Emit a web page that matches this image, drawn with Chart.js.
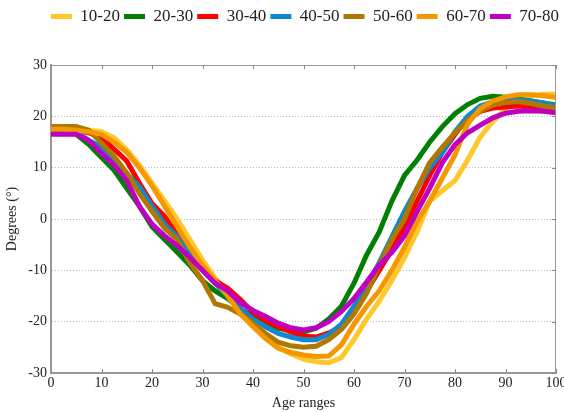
<!DOCTYPE html>
<html>
<head>
<meta charset="utf-8">
<script src="https://cdn.jsdelivr.net/npm/chart.js@4.4.1/dist/chart.umd.min.js"></script>
<style>
  html, body { margin: 0; padding: 0; background: #fff; }
  #wrap { width: 564px; height: 412px; }
</style>
</head>
<body>
<div id="wrap"><canvas id="chart" width="564" height="412"></canvas></div>
<script>
// age positions (x), every 2.5
const ages = [0, 2.5, 5, 7.5, 10, 12.5, 15, 17.5, 20, 22.5, 25, 27.5, 30, 32.5, 35, 37.5, 40,
  42.5, 45, 47.5, 50, 52.5, 55, 57.5, 60, 62.5, 65, 67.5, 70, 72.5, 75, 77.5, 80,
  82.5, 85, 87.5, 90, 92.5, 95, 97.5, 100];

const seriesNames = ['10-20', '20-30', '30-40', '40-50', '50-60', '60-70', '70-80'];

const g10_20 = [17.5, 17.5, 17.3, 17.3, 17, 15.8, 13.5, 10.5, 7, 3.5, 0, -4, -8, -11.5, -14.5, -17.5, -20.5,
  -23, -25, -26.3, -27.3, -27.8, -28, -27, -23.5, -19.5, -16, -12, -7.5, -2.5, 3.5, 5.5, 7.5,
  11.5, 16, 19, 21.5, 23.3, 24, 24.3, 24.3];
const g20_30 = [17.5, 17.5, 16.5, 14.5, 12, 9.5, 6, 2.5, -1.5, -4, -6.5, -9, -12, -14, -15.5, -17.5, -19,
  -20.5, -21.3, -21.7, -22, -21.3, -19.5, -17, -12.5, -7, -2.5, 3.5, 8.5, 11.5, 15, 18, 20.5,
  22.3, 23.5, 23.9, 23.7, 23.4, 23, 22.6, 22.2];
const g30_40 = [17.3, 17.3, 17.3, 16.8, 15.8, 13.6, 11.3, 7, 3, 0.5, -3, -6.5, -9.5, -12, -13.5, -15.7, -18.2,
  -19.8, -21, -22, -22.8, -23, -22.2, -21, -18, -14, -10, -6, -1.5, 3.5, 8.5, 13, 16.5,
  19.7, 21, 21.6, 21.8, 22, 21.8, 21.6, 21.3];
const g40_50 = [17.5, 17.3, 17, 15.3, 14, 11.5, 8.8, 6.3, 2.5, -1, -3.5, -7, -10, -12.5, -15, -17.5, -19.5,
  -21, -22.3, -23, -23.5, -23.5, -22.5, -20.5, -17, -13, -8.5, -3.5, 1.5, 6, 10, 13, 17,
  20, 22, 22.8, 23.1, 23.2, 23, 22.6, 22];
const g50_60 = [18, 18, 18, 17.3, 14.8, 12.2, 9, 5, 1.5, -1.8, -4, -8.5, -12, -16.5, -17.2, -18.5, -20.3,
  -22.3, -24, -24.7, -25, -24.8, -23.5, -21.5, -18.5, -14.5, -9, -4, 0, 6, 11, 14, 16.8,
  19.2, 21, 22.2, 22.7, 22.9, 22.5, 22, 21.6];
const g60_70 = [17.5, 17.5, 17.3, 17, 16.5, 15, 13, 10, 6.5, 2.5, -1.5, -5.5, -9, -12, -15, -18.5, -21,
  -23.3, -25.2, -26, -26.5, -26.8, -26.7, -24.5, -20.5, -17, -14, -10, -5.5, -0.5, 3.5, 8, 12.5,
  18.5, 21.5, 23, 23.8, 24.2, 24.2, 24, 23.7];
const g70_80 = [16.5, 16.5, 16.5, 15.3, 12.8, 10.5, 7.5, 2.5, -1, -3.3, -5.2, -7.5, -10, -12.5, -14, -16.3, -17.8,
  -19, -20.3, -21.2, -21.6, -21.2, -20, -18, -15.5, -12.3, -9, -6.5, -3.3, 1.5, 6, 11, 14.5,
  16.8, 18.3, 19.7, 20.6, 21, 21.1, 21, 20.7];

const xTicks = [0, 10, 20, 30, 40, 50, 60, 70, 80, 90, 100];
const yTicks = [-30, -20, -10, 0, 10, 20, 30];

const allSeries = [g10_20, g20_30, g30_40, g40_50, g50_60, g60_70, g70_80];
const colors = ['#FFC82A', '#008000', '#FF0000', '#1088D0', '#B07800', '#F59800', '#C000C0'];

const serif = "'Liberation Serif', 'DejaVu Serif', serif";

// inner tick marks + top/right frame
const frame = {
  id: 'frame',
  afterDraw(chart) {
    const { ctx, chartArea: a, scales } = chart;
    ctx.save();
    ctx.strokeStyle = '#999';
    ctx.lineWidth = 1;
    ctx.beginPath();
    ctx.moveTo(a.left, a.top + 0.5);
    ctx.lineTo(a.right - 0.5, a.top + 0.5);
    ctx.lineTo(a.right - 0.5, a.bottom);
    ctx.stroke();
    ctx.strokeStyle = '#888';
    ctx.beginPath();
    xTicks.forEach(v => {
      const x = Math.round(scales.x.getPixelForValue(v)) + 0.5;
      ctx.moveTo(x, a.top); ctx.lineTo(x, a.top + 4);
      ctx.moveTo(x, a.bottom); ctx.lineTo(x, a.bottom - 4);
    });
    yTicks.forEach(v => {
      const y = Math.round(scales.y.getPixelForValue(v)) + 0.5;
      ctx.moveTo(a.right, y); ctx.lineTo(a.right - 4, y);
    });
    ctx.stroke();
    ctx.restore();
  }
};

// extra space under the legend, legend pushed to the right edge
const legendGap = {
  id: 'legendGap',
  beforeInit(chart) {
    const fit = chart.legend.fit;
    chart.legend.fit = function() {
      fit.bind(chart.legend)();
      this.height += 30;
    };
  },
  beforeDraw(chart) {
    chart.legend.right = chart.width - 1;
  }
};

new Chart(document.getElementById('chart'), {
  type: 'line',
  data: {
    labels: ages,
    datasets: allSeries.map((s, i) => ({
      label: seriesNames[i],
      data: s.map((v, j) => ({ x: ages[j], y: v })),
      borderColor: colors[i],
      backgroundColor: colors[i],
      borderWidth: 5,
      pointRadius: 0,
      tension: 0,
      fill: false,
      order: allSeries.length - 1 - i
    }))
  },
  options: {
    responsive: false,
    animation: false,
    layout: { padding: { left: 0, right: 8, top: 4, bottom: 0 } },
    plugins: {
      tooltip: { enabled: false },
      legend: {
        position: 'top',
        align: 'end',
        labels: {
          boxWidth: 21,
          boxHeight: 5,
          padding: 4,
          color: '#222',
          font: { family: serif, size: 17 },
          sort: (a, b) => a.datasetIndex - b.datasetIndex,
          generateLabels: chart => Chart.defaults.plugins.legend.labels.generateLabels(chart)
            .map(item => Object.assign(item, { lineWidth: 0, strokeStyle: 'transparent' }))
        }
      }
    },
    scales: {
      x: {
        type: 'linear',
        min: 0,
        max: 100,
        afterFit: axis => { axis.height = 39; axis.paddingRight = 0; },
        afterBuildTicks: axis => { axis.ticks = xTicks.map(v => ({ value: v })); },
        grid: { display: false, drawTicks: false },
        border: { display: true, color: '#999', width: 2 },
        ticks: { color: '#222', font: { family: serif, size: 14 }, padding: 2, maxRotation: 0 },
        title: { display: true, text: 'Age ranges', color: '#222', font: { family: serif, size: 14 }, padding: { top: 3, bottom: 0 } }
      },
      y: {
        min: -30,
        max: 30,
        afterFit: axis => { axis.width = 51; },
        afterBuildTicks: axis => { axis.ticks = yTicks.map(v => ({ value: v })); },
        grid: { color: '#bbb', lineWidth: 1, drawTicks: false },
        border: { display: true, color: '#999', width: 2, dash: [1, 2] },
        ticks: { color: '#222', font: { family: serif, size: 14 }, padding: 4 },
        title: { display: true, text: 'Degrees (°)', color: '#222', font: { family: serif, size: 14 }, padding: { top: 4, bottom: 4 } }
      }
    }
  },
  plugins: [frame, legendGap]
});
</script>
</body>
</html>
